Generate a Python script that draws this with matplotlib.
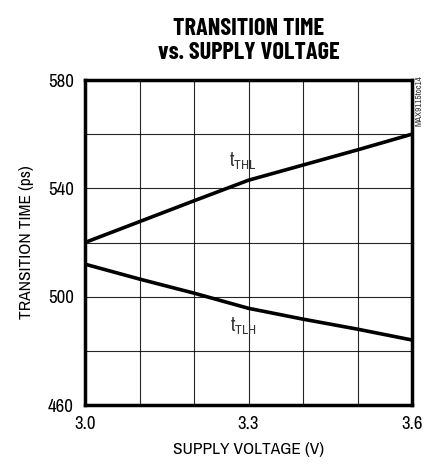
import matplotlib
matplotlib.use("Agg")
import matplotlib.pyplot as plt
from matplotlib.ticker import MultipleLocator, FixedLocator

voltage = [3.0, 3.1, 3.2, 3.3, 3.4, 3.5, 3.6]
t_thl = [520.0, 527.7, 535.4, 543.0, 548.6, 554.2, 560.0]
t_tlh = [512.0, 506.5, 501.3, 495.7, 491.7, 488.0, 484.0]
xticks = [3.0, 3.3, 3.6]
yticks = [460, 500, 540, 580]

fam = ["Archivo Narrow", "DejaVu Sans"]
plt.rcParams['font.family'] = fam
plt.rcParams['mathtext.fontset'] = 'custom'
plt.rcParams['mathtext.rm'] = 'Archivo Narrow'

fig = plt.figure(figsize=(4.25, 4.65), dpi=100)
ax = fig.add_axes([85/425, 1-405/465, 327/425, 325/465])

ax.plot(voltage, t_thl, color="black", lw=2.6, solid_capstyle="butt", zorder=3)
ax.plot(voltage, t_tlh, color="black", lw=2.6, solid_capstyle="butt", zorder=3)

ax.set_xlim(3.0, 3.6)
ax.set_ylim(460, 580)
ax.xaxis.set_major_locator(FixedLocator(xticks))
ax.yaxis.set_major_locator(FixedLocator(yticks))
ax.xaxis.set_minor_locator(MultipleLocator(0.1))
ax.yaxis.set_minor_locator(MultipleLocator(20))
ax.grid(True, which="both", color="black", lw=0.8, alpha=0.85)
ax.tick_params(which="both", length=0, labelsize=13.5, pad=8)
ax.set_xticklabels(["3.0", "3.3", "3.6"])
for s in ax.spines.values():
    s.set_linewidth(2.5)

ax.set_xlabel("SUPPLY VOLTAGE (V)", fontsize=12.5, labelpad=7)
ax.set_ylabel("TRANSITION TIME (ps)", fontsize=12.5, labelpad=10)

ax.text(3.29, 550, r"t$_{\mathregular{THL}}$", fontsize=14, ha="center", va="center",
        color="#333333", zorder=4)
ax.text(3.29, 489, r"t$_{\mathregular{TLH}}$", fontsize=14, ha="center", va="center",
        color="#333333", zorder=4)

fig.text(249/425, 1-41/465, "TRANSITION TIME\nvs. SUPPLY VOLTAGE", fontsize=17.5,
         fontweight="bold", family=["Barlow Condensed", "DejaVu Sans"],
         ha="center", va="center", linespacing=1.15)
fig.text(419/425, 1-101/465, "MAX9115toc14", fontsize=6.5, rotation=90,
         ha="center", va="center", color="#333333")

fig.savefig("out.png", dpi=100)
